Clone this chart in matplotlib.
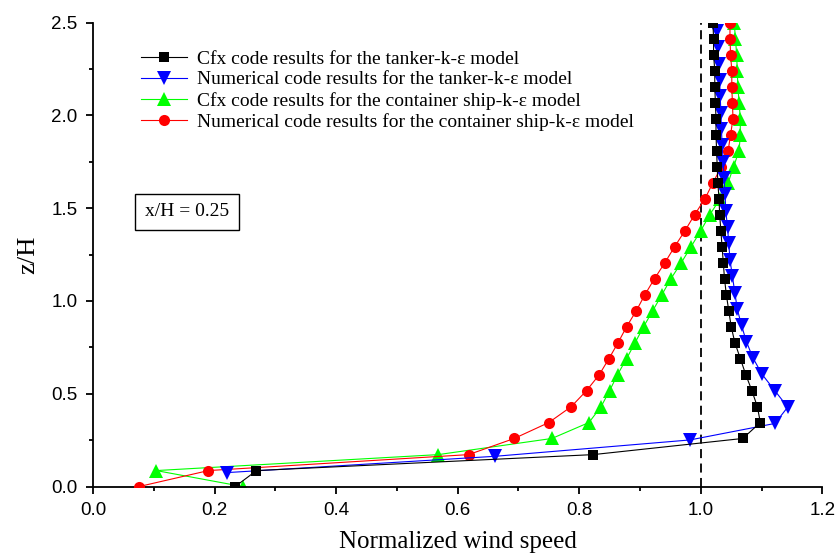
import matplotlib
matplotlib.use("Agg")
import matplotlib.pyplot as plt
from matplotlib.ticker import MultipleLocator, FormatStrFormatter

# ---- data ----
z_levels = [0.000, 0.086, 0.172, 0.259, 0.345, 0.431, 0.517, 0.603, 0.690, 0.776,
            0.862, 0.948, 1.034, 1.121, 1.207, 1.293, 1.379, 1.466, 1.552, 1.638,
            1.724, 1.810, 1.897, 1.983, 2.069, 2.155, 2.241, 2.328, 2.414, 2.500]

cfx_tanker = [0.234, 0.269, 0.823, 1.069, 1.098, 1.093, 1.084, 1.074, 1.065, 1.056,
              1.050, 1.046, 1.042, 1.039, 1.037, 1.035, 1.033, 1.031, 1.030, 1.028,
              1.027, 1.026, 1.025, 1.025, 1.024, 1.023, 1.023, 1.021, 1.021, 1.020]

z_num_tanker = [0.075, 0.163, 0.251, 0.340, 0.428, 0.516, 0.604, 0.692, 0.781, 0.869,
                0.957, 1.045, 1.134, 1.222, 1.310, 1.398, 1.486, 1.575, 1.663, 1.751,
                1.839, 1.928, 2.016, 2.104, 2.192, 2.280, 2.369, 2.457]
num_tanker = [0.220, 0.662, 0.982, 1.122, 1.143, 1.122, 1.101, 1.086, 1.075, 1.067,
              1.060, 1.056, 1.052, 1.048, 1.046, 1.044, 1.041, 1.040, 1.038, 1.037,
              1.035, 1.034, 1.033, 1.032, 1.031, 1.030, 1.028, 1.027]

cfx_container = [0.246, 0.104, 0.568, 0.755, 0.816, 0.836, 0.850, 0.863, 0.878, 0.892,
                 0.906, 0.921, 0.936, 0.951, 0.968, 0.984, 1.000, 1.015, 1.032, 1.045,
                 1.054, 1.063, 1.065, 1.065, 1.063, 1.061, 1.060, 1.059, 1.057, 1.055]

num_container = [0.076, 0.190, 0.618, 0.693, 0.750, 0.787, 0.812, 0.833, 0.849, 0.864,
                 0.878, 0.894, 0.908, 0.924, 0.941, 0.957, 0.974, 0.990, 1.007, 1.020,
                 1.034, 1.045, 1.049, 1.053, 1.052, 1.051, 1.051, 1.049, 1.048, 1.048]

labels = ["Cfx code results for the tanker-k-\u03b5 model",
          "Numerical code results for the tanker-k-\u03b5 model",
          "Cfx code results for the container ship-k-\u03b5 model",
          "Numerical code results for the container ship-k-\u03b5 model"]

ref_speed = 1.0
x_ticks = [0.0, 0.2, 0.4, 0.6, 0.8, 1.0, 1.2]
y_ticks = [0.0, 0.5, 1.0, 1.5, 2.0, 2.5]

# ---- figure ----
fig = plt.figure(figsize=(8.4, 5.54), dpi=100)
ax = fig.add_axes([0.1107, 0.1218, 0.8683, 0.8372])

serif = ["Liberation Serif", "DejaVu Serif"]
sans = ["Liberation Sans", "DejaVu Sans"]

ax.plot(cfx_container, z_levels, color="#00ff00", lw=0.8, marker="^", ms=9.5,
        mec="#00ff00", mew=0, zorder=2, label=labels[2])
ax.plot(num_container, z_levels, color="#ff0000", lw=0.8, marker="o", ms=8,
        mec="#ff0000", mew=0, zorder=3, label=labels[3])
ax.plot(num_tanker, z_num_tanker, color="#0000ff", lw=0.8, marker="v", ms=9.5,
        mec="#0000ff", mew=0, zorder=4, label=labels[1])
ax.plot(cfx_tanker, z_levels, color="black", lw=0.8, marker="s", ms=6.8,
        mec="black", mew=0, zorder=5, label=labels[0])

ax.axvline(ref_speed, color="black", lw=1.3, ls=(0, (5, 3)), zorder=1)

ax.set_xlim(0, 1.2)
ax.set_ylim(0, 2.5)
ax.set_xticks(x_ticks)
ax.set_yticks(y_ticks)
ax.xaxis.set_minor_locator(MultipleLocator(0.1))
ax.yaxis.set_minor_locator(MultipleLocator(0.25))
ax.xaxis.set_major_formatter(FormatStrFormatter("%.1f"))
ax.yaxis.set_major_formatter(FormatStrFormatter("%.1f"))

for s in ["top", "right"]:
    ax.spines[s].set_visible(False)
for s in ["left", "bottom"]:
    ax.spines[s].set_linewidth(1.3)

ax.tick_params(which="major", direction="out", length=5, width=1.3, labelsize=13.5, pad=6)
ax.tick_params(which="minor", direction="out", length=3, width=1.3)
for lab in ax.get_xticklabels() + ax.get_yticklabels():
    lab.set_family(sans)

ax.set_xlabel("Normalized wind speed", family=serif, fontsize=18, labelpad=9)
ax.set_ylabel("z/H", family=serif, fontsize=19, labelpad=9)

handles, labs = ax.get_legend_handles_labels()
order = [3, 2, 0, 1]
leg = ax.legend([handles[i] for i in order], [labs[i] for i in order],
                loc="upper left", bbox_to_anchor=(0.055, 0.958), frameon=False,
                prop={"family": serif, "size": 14}, handlelength=2.37,
                handletextpad=0.5, labelspacing=0.17, borderaxespad=0)

ax.text(0.155, 1.48, "x/H = 0.25", family=serif, fontsize=14,
        ha="center", va="center",
        bbox=dict(boxstyle="square,pad=0.5", fc="white", ec="black", lw=1.0))

fig.savefig("out.png", dpi=100)
